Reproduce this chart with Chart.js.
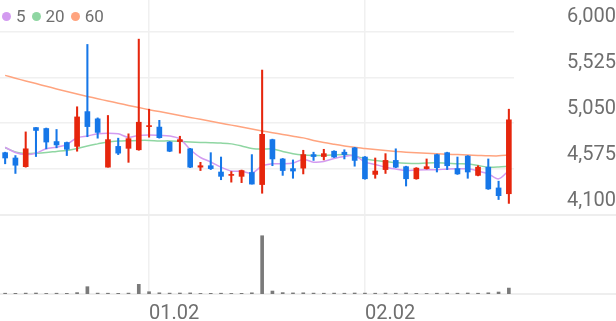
<!DOCTYPE html>
<html>
<head>
<meta charset="utf-8">
<script src="https://cdn.jsdelivr.net/npm/chart.js@4.4.1/dist/chart.umd.min.js"></script>
<style>
  html, body { margin: 0; padding: 0; background: #fff; }
  #wrap { position: relative; width: 616px; height: 321px; }
  #legend { position: absolute; left: 2px; top: 6px; display: flex; align-items: center;
            font: 17px Roboto, sans-serif; color: #6f6f6f; line-height: 20px; }
  #legend .item { display: flex; align-items: center; margin-right: 6px; }
  #legend .dot { width: 9px; height: 9px; border-radius: 50%; margin-right: 5px; }
</style>
</head>
<body>
<div id="wrap">
  <canvas id="chart"></canvas>
  <div id="legend"></div>
</div>
<script>
// 거래일 (MM.DD)
const dates = [
  '12.10','12.11','12.12','12.15','12.16','12.17','12.18','12.19','12.22','12.23','12.24','12.26','12.29','12.30',
  '01.02','01.05','01.06','01.07','01.08','01.09','01.12','01.13','01.14','01.15','01.16','01.19','01.20','01.21',
  '01.22','01.23','01.26','01.27','01.28','01.29','01.30',
  '02.02','02.03','02.04','02.05','02.06','02.09','02.10','02.11','02.12','02.13','02.19','02.20','02.23','02.24','02.25'
];

// 시가 / 고가 / 저가 / 종가
const opens  = [4745,4690,4600,5005,4995,4860,4850,4810,5170,5095,4595,4810,4790,4775,5015,5010,4855,4860,4785,4595,
                4610,4545,4510,4500,4540,4415,4880,4680,4580,4585,4725,4705,4760,4750,4795,4700,4520,4570,4665,4600,
                4475,4580,4725,4745,4580,4710,4510,4595,4380,4320];
const highs  = [4750,4715,4960,5005,5000,4985,4855,5220,5865,5105,5130,4895,4940,5920,5195,5080,4860,4915,4790,4645,
                4745,4700,4550,4565,4725,5600,4885,4685,4670,4770,4750,4780,4765,4775,4800,4705,4690,4735,4785,4605,
                4590,4680,4730,4750,4700,4715,4610,4680,4450,5195];
const lows   = [4630,4530,4595,4705,4785,4795,4715,4760,4910,4895,4595,4725,4645,4770,4905,4895,4755,4740,4590,4560,
                4570,4465,4440,4435,4420,4325,4610,4510,4480,4525,4665,4670,4695,4680,4605,4470,4480,4530,4590,4400,
                4470,4575,4545,4570,4520,4480,4505,4365,4260,4220];
const closes = [4690,4615,4785,4975,4855,4825,4780,5115,5015,4955,4880,4740,4890,5060,5025,4900,4760,4880,4595,4610,
                4580,4500,4520,4560,4420,4935,4680,4560,4555,4725,4705,4735,4700,4725,4665,4475,4555,4665,4595,4475,
                4585,4600,4590,4610,4525,4545,4595,4370,4300,5085];

// 거래량
const volumes = [40000,35000,45000,50000,30000,40000,35000,70000,370000,45000,40000,35000,45000,490000,115000,60000,
                 45000,50000,55000,30000,35000,40000,30000,35000,60000,2950000,150000,70000,55000,60000,45000,40000,
                 45000,40000,50000,45000,40000,45000,40000,50000,35000,30000,40000,45000,40000,50000,40000,60000,
                 100000,300000];

// 이동평균선 (5 / 20 / 60)
const ma5  = [4801,4747,4727,4740,4786,4802,4830,4899,4918,4940,4946,4940,4903,4924,4929,4924,4918,4887,4778,4695,
              4649,4595,4555,4553,4532,4607,4630,4630,4638,4675,4647,4654,4685,4706,4716,4647,4623,4595,4576,4560,
              4565,4568,4568,4576,4578,4578,4555,4526,4474,4560];
const ma20 = [4796,4752,4737,4740,4747,4758,4768,4789,4815,4836,4856,4865,4869,4872,4872,4867,4867,4862,4856,4851,
              4848,4844,4836,4815,4789,4782,4784,4758,4734,4721,4716,4716,4721,4727,4711,4682,4664,4654,4643,4636,
              4633,4638,4640,4636,4630,4628,4612,4595,4597,4605];
const ma60 = [5545,5515,5487,5460,5432,5405,5378,5352,5327,5303,5280,5257,5234,5212,5190,5170,5150,5130,5110,5090,
              5070,5050,5030,5010,4990,4970,4952,4934,4916,4898,4872,4850,4832,4815,4800,4788,4777,4767,4758,4750,
              4743,4738,4733,4729,4725,4721,4717,4713,4712,4720];

// 가격축 눈금
const priceTicks = [4100, 4575, 5050, 5525, 6000];

const UP = '#e6260d';
const DOWN = '#1677e8';
const candleColors = closes.map((c, i) => c >= opens[i] ? UP : DOWN);

const maLines = [
  { label: '5',  data: ma5,  color: '#d39bf0' },
  { label: '20', data: ma20, color: '#8fd6a2' },
  { label: '60', data: ma60, color: '#ffa47f' },
];

// 범례 (HTML)
const legendEl = document.getElementById('legend');
maLines.forEach(m => {
  const item = document.createElement('span');
  item.className = 'item';
  item.innerHTML = `<span class="dot" style="background:${m.color}"></span><span>${m.label}</span>`;
  legendEl.appendChild(item);
});

const isMonthStart = i => i > 0 && dates[i].slice(0, 2) !== dates[i - 1].slice(0, 2);

// 가격/거래량 패널 경계선 (전체 폭)
const panelLines = {
  id: 'panelLines',
  beforeDatasetsDraw(chart) {
    const { ctx, scales: { yv } } = chart;
    ctx.save();
    ctx.strokeStyle = '#eeeeee';
    ctx.lineWidth = 2;
    [yv.top, yv.bottom].forEach(y => {
      ctx.beginPath();
      ctx.moveTo(0, y);
      ctx.lineTo(chart.width, y);
      ctx.stroke();
    });
    ctx.restore();
  }
};

// 축 폭 고정 + 라벨 여백이 차트 영역을 줄이지 않도록
const fixAxis = s => {
  s.width = 102;
  s.paddingTop = 0;
  s.paddingBottom = 0;
};

const axisFont = { family: 'Roboto', size: 20 };

new Chart(document.getElementById('chart'), {
  type: 'bar',
  data: {
    labels: dates,
    datasets: [
      {
        label: 'wick',
        data: lows.map((l, i) => [l, highs[i]]),
        backgroundColor: candleColors,
        barThickness: 1.4,
        grouped: false,
        yAxisID: 'y',
        order: 0,
      },
      {
        label: 'body',
        data: opens.map((o, i) => [o, closes[i]]),
        backgroundColor: candleColors,
        barThickness: 5,
        grouped: false,
        yAxisID: 'y',
        order: 0,
      },
      {
        label: 'volume',
        data: volumes,
        backgroundColor: '#7a7a7a',
        barThickness: 3,
        grouped: false,
        yAxisID: 'yv',
        order: 0,
      },
      ...maLines.map(m => ({
        type: 'line',
        label: m.label,
        data: m.data,
        borderColor: m.color,
        borderWidth: 1.5,
        pointRadius: 0,
        tension: 0.3,
        yAxisID: 'y',
        order: 1,
      })),
    ],
  },
  options: {
    responsive: true,
    maintainAspectRatio: false,
    animation: false,
    events: [],
    layout: { padding: 0 },
    plugins: {
      legend: { display: false },
      tooltip: { enabled: false },
    },
    scales: {
      x: {
        offset: true,
        afterFit: s => {
          s.height = 27;
          s.paddingLeft = 0;
          s.paddingRight = 0;
        },
        grid: {
          offset: false,
          drawTicks: false,
          lineWidth: 1.5,
          color: ctx => isMonthStart(ctx.index) ? '#f0f0f0' : 'rgba(0,0,0,0)',
        },
        border: { display: false },
        ticks: {
          autoSkip: false,
          maxRotation: 0,
          minRotation: 0,
          align: 'start',
          padding: 8,
          font: axisFont,
          color: '#6f6f6f',
          callback: (v, i) => isMonthStart(i) ? dates[i] : '',
        },
      },
      y: {
        type: 'linear',
        position: 'right',
        stack: 'main',
        stackWeight: 215,
        min: 4100,
        max: 6325,
        afterBuildTicks: s => { s.ticks = priceTicks.map(v => ({ value: v })); },
        afterFit: fixAxis,
        grid: { color: '#f0f0f0', lineWidth: 1.5, drawTicks: false },
        border: { display: false },
        ticks: {
          autoSkip: false,
          font: axisFont,
          color: '#6f6f6f',
          padding: 48,
          crossAlign: 'far',
          labelOffset: -14,
          callback: v => v.toLocaleString('en-US'),
        },
      },
      yv: {
        type: 'linear',
        position: 'right',
        stack: 'main',
        stackWeight: 79,
        min: 0,
        max: 4000000,
        afterFit: fixAxis,
        grid: { display: false },
        border: { display: false },
        ticks: { display: false },
      },
    },
  },
  plugins: [panelLines],
});
</script>
</body>
</html>
